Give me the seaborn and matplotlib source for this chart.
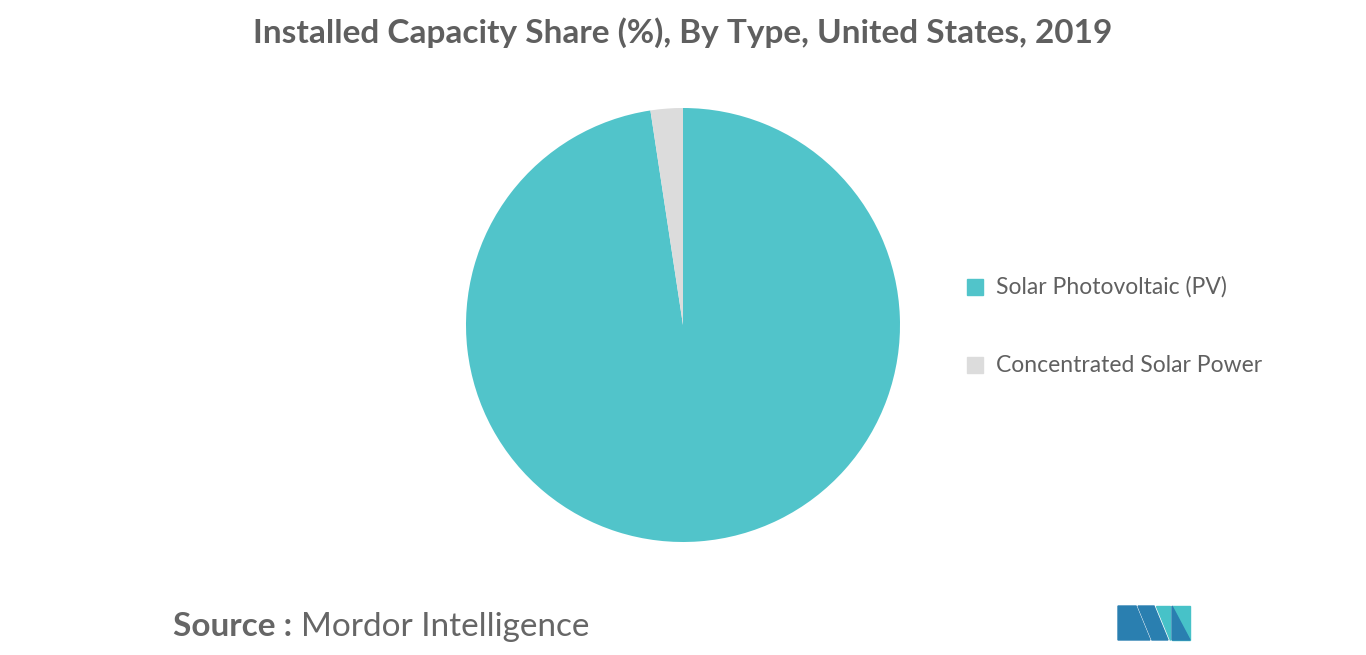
import matplotlib
matplotlib.use("Agg")
import matplotlib.pyplot as plt
from matplotlib.patches import Polygon, Rectangle
import seaborn as sns

types = ["Solar Photovoltaic (PV)", "Concentrated Solar Power"]
share = [97.6, 2.4]
colors = ["#51c4ca", "#dcdcdc"]

sns.set_theme(style="white", font="Lato")
W, H = 1366, 655
fig = plt.figure(figsize=(W / 100, H / 100), dpi=100)

# pie placed by pixel: center (683, 325), radius 217
r = 217
ax = fig.add_axes([(683 - r) / W, (H - 325 - r) / H, 2 * r / W, 2 * r / H])
ax.pie(share, colors=colors, startangle=90, counterclock=False,
       wedgeprops=dict(linewidth=0))
ax.set_xlim(-1, 1)
ax.set_ylim(-1, 1)
ax.set_aspect("equal")
ax.axis("off")

fig.text(683 / W, 1 - 33 / H, "Installed Capacity Share (%), By Type, United States, 2019",
         ha="center", va="center", fontsize=24, fontweight="bold", color="#5f5f5f")

# legend
for i, (t, c) in enumerate(zip(types, colors)):
    y = 287 + 78 * i
    fig.patches.append(Rectangle((967 / W, 1 - (y + 8) / H), 16 / W, 16 / H,
                                 transform=fig.transFigure, color=c))
    fig.text(996 / W, 1 - y / H, t, ha="left", va="center", fontsize=16.5, color="#606060")

fig.text(173 / W, 1 - 627 / H, "Source :", ha="left", va="center",
         fontsize=24, fontweight="bold", color="#666666")
fig.text(301 / W, 1 - 627 / H, "Mordor Intelligence", ha="left", va="center",
         fontsize=24, color="#666666")

# logo
def px(pts):
    return [(x / W, 1 - y / H) for x, y in pts]

logo = [
    ([(1118, 640), (1118, 606), (1136, 606), (1150, 640)], "#2a7fb0"),
    ([(1138, 606), (1154, 606), (1168, 640), (1152, 640)], "#2a7fb0"),
    ([(1156, 606), (1170, 606), (1170, 640)], "#47c2c8"),
    ([(1172, 606), (1190, 606), (1190, 640), (1172, 640)], "#47c2c8"),
    ([(1172, 606), (1190, 640), (1172, 640)], "#2a7fb0"),
]
for pts, c in logo:
    fig.patches.append(Polygon(px(pts), closed=True, transform=fig.transFigure, color=c))

fig.savefig("out.png", dpi=100, facecolor="white")
